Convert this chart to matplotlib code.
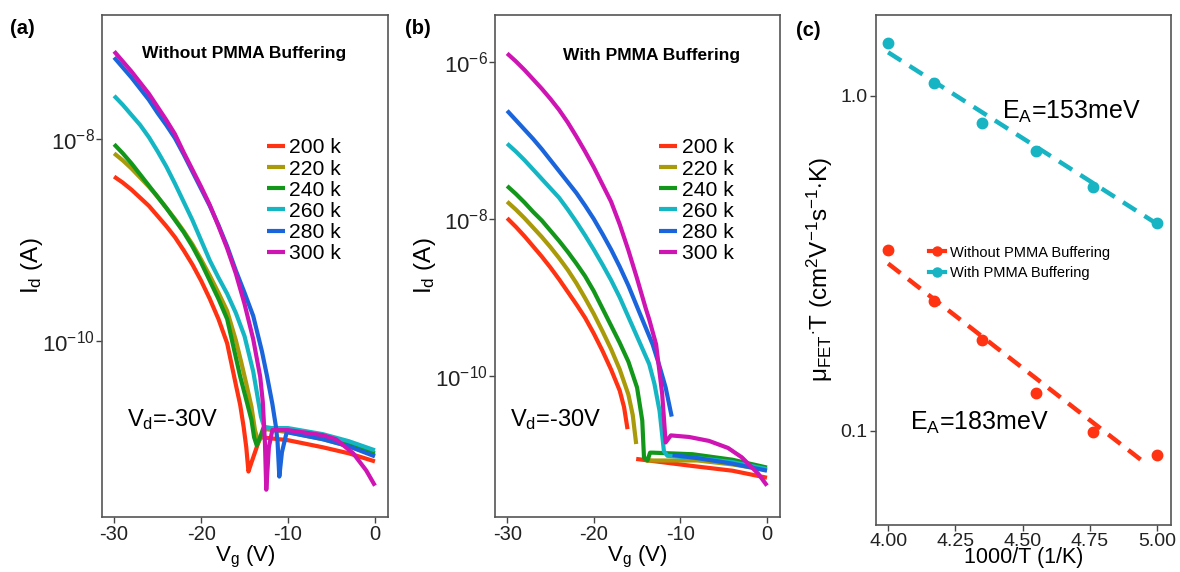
import numpy as np
import matplotlib.pyplot as plt
from matplotlib.lines import Line2D

plt.rcParams['font.family'] = ['Liberation Sans', 'DejaVu Sans']
plt.rcParams['mathtext.fontset'] = 'custom'
plt.rcParams['mathtext.rm'] = 'Liberation Sans'
plt.rcParams['mathtext.it'] = 'Liberation Sans:italic'
plt.rcParams['mathtext.bf'] = 'Liberation Sans:bold'
plt.rcParams['axes.unicode_minus'] = False

nan = np.nan
temps = ['200 k', '220 k', '240 k', '260 k', '280 k', '300 k']
colors = ['#ff3212', '#a89a08', '#12971a', '#14b6c4', '#1a64dc', '#cf14b4']

# (a) without PMMA buffering: Vg (V) and log10(Id / A)
vg_a_200 = [-30, -29, -28, -27, -26, -25, -24, -23, -22, -21, -20, -19, -18, -17, -16, -15.5, -15.1, -14.8, -14.55,
            -14.2, -13.6, -13.2, -10, -6, -3, 0]
id_a_200 = [-8.37, -8.43, -8.50, -8.58, -8.66, -8.76, -8.86, -8.97, -9.10, -9.24, -9.40, -9.58, -9.78, -10.02, -10.43,
            -10.63, -10.85, -11.05, -11.29, -11.20, -11.05, -10.95, -10.98, -11.05, -11.11, -11.19]
vg_a_220 = [-30, -29, -28, -27, -26, -25, -24, -23, -22, -21, -20, -19, -18, -17, -16, -15.4, -14.8, -14.2,
            -13.8, -13.4, -13.0, -12.6, -10, -6, -3, 0]
id_a_220 = [-8.14, -8.21, -8.29, -8.38, -8.47, -8.57, -8.68, -8.79, -8.91, -9.04, -9.19, -9.35, -9.52, -9.70, -9.99,
            -10.2, -10.42, -10.65, -10.88, -11.0, -10.93, -10.87, -10.9, -10.97, -11.04, -11.13]
vg_a_240 = [-30, -29, -28, -27, -26, -25, -24, -23, -22, -21, -20, -19, -18, -17, -16, -15.5, -14.8, -14.2,
            -13.9, -13.6, -13.2, -12.8, -10, -6, -3, 0]
id_a_240 = [-8.05, -8.14, -8.24, -8.35, -8.46, -8.57, -8.68, -8.80, -8.92, -9.06, -9.22, -9.40, -9.58, -9.78, -10.16,
            -10.35, -10.58, -10.78, -10.95, -11.03, -10.95, -10.85, -10.88, -10.95, -11.02, -11.11]
vg_a_260 = [-30, -29, -28, -27, -26, -25, -24, -23, -22, -21, -20, -19, -18, -17, -16, -15, -14, -13.6, -13.1,
            -12.7, -10, -6, -3, 0]
id_a_260 = [-7.57, -7.66, -7.76, -7.86, -7.98, -8.12, -8.27, -8.44, -8.62, -8.80, -9.00, -9.20, -9.37, -9.53, -9.72,
            -9.95, -10.30, -10.50, -10.75, -10.86, -10.86, -10.92, -10.99, -11.08]
vg_a_280 = [-30, -29, -28, -27, -26, -25, -24, -23, -22, -21, -20, -19, -18, -17, -16, -15, -14, -13, -12.4, -11.8,
            -11.4, -11.2, -11.0, -10.7, -10.15, -6, -3, 0]
id_a_280 = [-7.19, -7.29, -7.39, -7.50, -7.61, -7.74, -7.86, -7.99, -8.15, -8.32, -8.49, -8.66, -8.85, -9.06, -9.30,
            -9.52, -9.75, -10.10, -10.35, -10.62, -10.84, -11.0, -11.34, -11.1, -10.9, -10.97, -11.04, -11.14]
vg_a_300 = [-30, -29, -28, -27, -26, -25, -24, -23, -22, -21, -20, -19, -18, -17, -16, -15, -14, -13.2, -12.9,
            -12.65, -12.5, -12.2, -11.8, -10, -6, -4.5, -2.5, -1, 0]
id_a_300 = [-7.13, -7.23, -7.33, -7.44, -7.55, -7.68, -7.81, -7.95, -8.13, -8.30, -8.47, -8.65, -8.86, -9.08, -9.33,
            -9.63, -9.98, -10.35, -10.60, -11.01, -11.47, -11.05, -10.88, -10.88, -10.93, -10.97, -11.11, -11.28,
            -11.43]

# (b) with PMMA buffering
vg_b_200 = [-30, -29, -28, -27, -26, -25, -24, -23, -22, -21, -20, -19, -18, -17, -16.5, -16.1, nan,
            -15.1, -8.6, -4, 0]
id_b_200 = [-7.99, -8.10, -8.22, -8.35, -8.48, -8.62, -8.77, -8.93, -9.09, -9.26, -9.46, -9.68, -9.92, -10.19,
            -10.40, -10.68, nan, -11.06, -11.15, -11.21, -11.30]
vg_b_220 = [-30, -29, -28, -27, -26, -25, -24, -23, -22, -21, -20, -19, -18, -17, -16, -15.5, -15.1, nan,
            -14.0, -8, -4, 0]
id_b_220 = [-7.78, -7.88, -7.99, -8.11, -8.23, -8.36, -8.50, -8.65, -8.82, -9.01, -9.21, -9.43, -9.66, -9.92,
            -10.24, -10.50, -10.87, nan, -11.08, -11.08, -11.13, -11.2]
vg_b_240 = [-30, -29, -28, -27, -26, -25, -24, -23, -22, -21, -20, -19, -18, -17, -16, -15, -14.4, -14.2,
            -13.8, -13.5, -13.2, -8.6, -4, 0]
id_b_240 = [-7.58, -7.68, -7.79, -7.91, -8.02, -8.15, -8.28, -8.42, -8.57, -8.73, -8.92, -9.14, -9.36, -9.58,
            -9.82, -10.15, -10.57, -11.04, -11.08, -10.98, -10.98, -11.0, -11.07, -11.17]
vg_b_260 = [-30, -29, -28, -27, -26, -25, -24, -23, -22, -21, -20, -19, -18, -17, -16, -15, -14, -13.6, -13,
            -12.4, -11.9, -11.5, -8, -4, 0]
id_b_260 = [-7.04, -7.14, -7.25, -7.37, -7.49, -7.61, -7.73, -7.88, -8.04, -8.21, -8.39, -8.58, -8.78, -9.00,
            -9.25, -9.50, -9.75, -9.85, -10.10, -10.45, -10.96, -11.02, -11.05, -11.1, -11.19]
vg_b_280 = [-30, -29, -28, -27, -26, -25, -24, -23, -22, -21, -20, -19, -18, -17, -16, -15, -14.4, -13.2,
            -12.4, -11.7, -11.0, nan, -10.9, -8, -4, 0]
id_b_280 = [-6.62, -6.74, -6.86, -6.98, -7.11, -7.25, -7.39, -7.53, -7.67, -7.83, -8.00, -8.19, -8.39, -8.61,
            -8.85, -9.12, -9.28, -9.60, -9.88, -10.15, -10.52, nan, -11.01, -11.05, -11.12, -11.21]
vg_b_300 = [-30, -29, -28, -27, -26, -25, -24, -23, -22, -21, -20, -19, -18, -17, -16, -15, -14, -13.6, -12.8,
            -12.1, -11.7, -11.1, -9, -6.7, -4.5, -2.9, -1, 0]
id_b_300 = [-5.89, -5.99, -6.10, -6.22, -6.34, -6.47, -6.61, -6.77, -6.95, -7.14, -7.34, -7.56, -7.78, -8.07,
            -8.40, -8.76, -9.14, -9.28, -9.60, -10.23, -10.85, -10.76, -10.78, -10.83, -10.92, -11.04, -11.25,
            -11.40]

# (c) mobility * T vs 1000/T
inv_t = [4.00, 4.17, 4.35, 4.55, 4.76, 5.00]
mu_with = [1.44, 1.09, 0.83, 0.685, 0.536, 0.417]
mu_without = [0.347, 0.244, 0.187, 0.130, 0.099, 0.085]
fit_with_x = [4.0, 5.0]
fit_with_y = [1.35, 0.415]
fit_without_x = [4.0, 4.96]
fit_without_y = [0.316, 0.0797]

curves_a = [(vg_a_200, id_a_200), (vg_a_220, id_a_220), (vg_a_240, id_a_240),
            (vg_a_260, id_a_260), (vg_a_280, id_a_280), (vg_a_300, id_a_300)]
curves_b = [(vg_b_200, id_b_200), (vg_b_220, id_b_220), (vg_b_240, id_b_240),
            (vg_b_260, id_b_260), (vg_b_280, id_b_280), (vg_b_300, id_b_300)]

fig = plt.figure(figsize=(11.8, 5.72), dpi=100)
ax_a = fig.add_axes([0.0864, 0.0962, 0.2424, 0.8776])
ax_b = fig.add_axes([0.4195, 0.0962, 0.2415, 0.8776])
ax_c = fig.add_axes([0.7424, 0.0822, 0.25, 0.8916])

def style_axes(ax):
    for s in ax.spines.values():
        s.set_color('#555555')
        s.set_linewidth(1.2)
    ax.tick_params(direction='out', length=4, width=1, color='#444444',
                   labelcolor='#222222', labelsize=14.5, pad=2)
    ax.minorticks_off()

for ax, curves, ylim, yt, ytl in [
        (ax_a, curves_a, (10**-11.74, 10**-6.77), [1e-10, 1e-8], [r'$10^{-10}$', r'$10^{-8}$']),
        (ax_b, curves_b, (10**-11.80, 10**-5.40), [1e-10, 1e-8, 1e-6],
         [r'$10^{-10}$', r'$10^{-8}$', r'$10^{-6}$'])]:
    for (vg, lid), c, lab in zip(curves, colors, temps):
        ax.plot(vg, 10.0 ** np.array(lid), color=c, lw=3, label=lab,
                solid_capstyle='butt')
    ax.set_yscale('log')
    ax.set_xlim(-31.4, 1.5)
    ax.set_ylim(*ylim)
    ax.set_xticks([-30, -20, -10, 0])
    ax.set_xticklabels(['-30', '-20', '-10', '0'])
    ax.set_yticks(yt)
    ax.set_yticklabels(ytl)
    style_axes(ax)
    ax.tick_params(axis='y', labelsize=16, pad=1)
    ax.set_xlabel(r'V$_{\rm g}$ (V)', fontsize=16)
    ax.set_ylabel(r'I$_{\rm d}$ (A)', fontsize=17.5)
    ax.xaxis.set_label_coords(0.5, -0.054)
    ax.yaxis.set_label_coords(-0.2, 0.5)
    ax.legend(loc='upper left', bbox_to_anchor=(0.577, 0.754), frameon=False,
              fontsize=15.2, handlelength=0.85, handletextpad=0.2,
              labelspacing=0.1, borderpad=0, borderaxespad=0)
    ax.text(0.087 if ax is ax_a else 0.053, 0.195, r'V$_{\rm d}$=-30V',
            transform=ax.transAxes, fontsize=17, va='center')

ax_a.text(0.14, 0.924, 'Without PMMA Buffering', transform=ax_a.transAxes,
          fontsize=12.5, fontweight='bold', va='center')
ax_b.text(0.239, 0.92, 'With PMMA Buffering', transform=ax_b.transAxes,
          fontsize=12.5, fontweight='bold', va='center')

red, cyan = '#ff3212', '#17b4c3'
ax_c.plot(fit_with_x, fit_with_y, color=cyan, lw=3.2, dashes=(3.5, 2.2))
ax_c.plot(fit_without_x, fit_without_y, color=red, lw=3.2, dashes=(3.5, 2.2))
ax_c.plot(inv_t, mu_with, 'o', color=cyan, ms=7.5)
ax_c.plot(inv_t, mu_without, 'o', color=red, ms=7.5)
ax_c.set_yscale('log')
ax_c.set_xlim(3.955, 5.052)
ax_c.set_ylim(0.0524, 1.745)
ax_c.set_xticks([4.0, 4.25, 4.5, 4.75, 5.0])
ax_c.set_xticklabels(['4.00', '4.25', '4.50', '4.75', '5.00'])
ax_c.set_yticks([0.1, 1.0])
ax_c.set_yticklabels(['0.1', '1.0'])
style_axes(ax_c)
ax_c.tick_params(labelsize=14)
ax_c.tick_params(axis='x', pad=1.5)
ax_c.set_xlabel('1000/T (1/K)', fontsize=15.5)
ax_c.xaxis.set_label_coords(0.5, -0.044)
ax_c.set_ylabel('μ$_{\\rm FET}$$^{\\cdot}$T (cm$^2$V$^{-1}$s$^{-1}$$\\cdot$K)', fontsize=17.5)
ax_c.yaxis.set_label_coords(-0.14, 0.5)
handles = [Line2D([], [], color=red, marker='o', lw=3, ms=6.5),
           Line2D([], [], color=cyan, marker='o', lw=3, ms=6.5)]
ax_c.legend(handles, ['Without PMMA Buffering', 'With PMMA Buffering'],
            loc='upper left', bbox_to_anchor=(0.18, 0.548), frameon=False,
            fontsize=10.5, handlelength=1.1, handletextpad=0.3,
            labelspacing=0.45, borderpad=0, borderaxespad=0)
ax_c.text(0.427, 0.81, r'E$_{\rm A}$=153meV', transform=ax_c.transAxes,
          fontsize=18, va='center')
ax_c.text(0.115, 0.2, r'E$_{\rm A}$=183meV', transform=ax_c.transAxes,
          fontsize=18, va='center')

fig.text(0.0085, 1 - 28 / 572, '(a)', fontsize=14.5, fontweight='bold', va='center')
fig.text(405 / 1180, 1 - 28 / 572, '(b)', fontsize=14.5, fontweight='bold', va='center')
fig.text(796 / 1180, 1 - 31 / 572, '(c)', fontsize=14.5, fontweight='bold', va='center')

fig.savefig('out.png', dpi=100)
